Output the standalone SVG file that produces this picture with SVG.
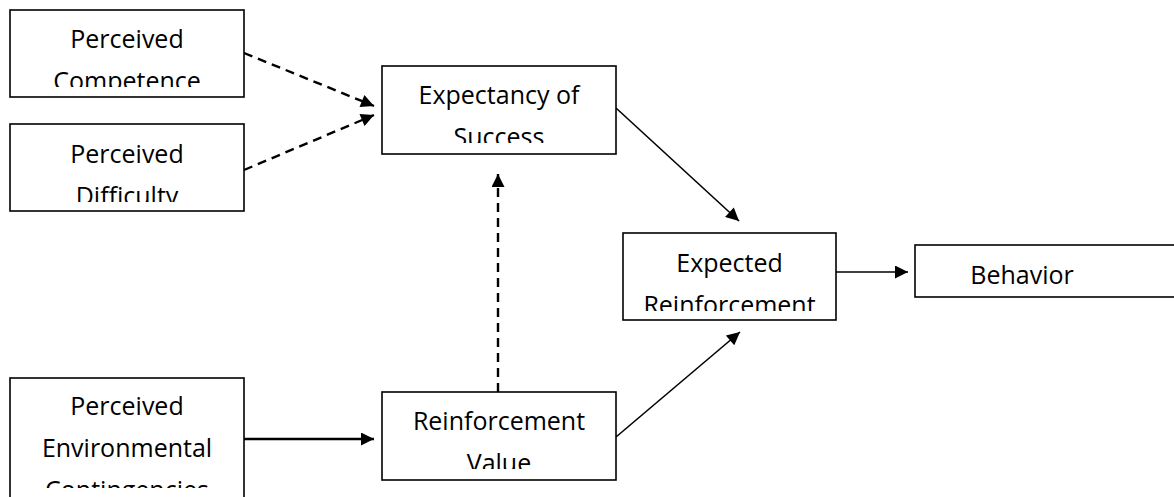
<svg xmlns="http://www.w3.org/2000/svg" width="1174" height="497" viewBox="0 0 1174 497">
<defs>
<style>
.box{fill:#fff;stroke:#000;stroke-width:1.6}
.t{font-family:"Open Sans","Liberation Sans",sans-serif;font-size:25px;fill:#000;text-anchor:middle}
.c{fill:none;stroke:#000;stroke-width:1.6}
.d{stroke-dasharray:9 6;stroke-width:2.4}
</style>
<marker id="ah" viewBox="0 0 10 10" refX="10" refY="5" markerWidth="16" markerHeight="13" markerUnits="userSpaceOnUse" orient="auto">
<path d="M0,0 L10,5 L0,10 Z" fill="#000"/>
</marker>
<clipPath id="k1"><rect x="10" y="10" width="234" height="77"/></clipPath>
<clipPath id="k2"><rect x="10" y="124" width="234" height="78"/></clipPath>
<clipPath id="k3"><rect x="382" y="66" width="234" height="77"/></clipPath>
<clipPath id="k4"><rect x="623" y="233" width="213" height="78"/></clipPath>
<clipPath id="k5"><rect x="10" y="378" width="234" height="110"/></clipPath>
<clipPath id="k6"><rect x="382" y="392" width="234" height="77"/></clipPath>
</defs>
<rect width="1174" height="497" fill="#fff"/>
<g id="connectors">
<line class="c d" x1="244" y1="53" x2="374" y2="106" marker-end="url(#ah)"/>
<line class="c d" x1="244" y1="170" x2="374" y2="115" marker-end="url(#ah)"/>
<line class="c d" x1="498" y1="392" x2="498" y2="174" marker-end="url(#ah)"/>
<line class="c" x1="616" y1="108" x2="739" y2="221" marker-end="url(#ah)"/>
<line class="c" x1="616" y1="437" x2="740" y2="332" marker-end="url(#ah)"/>
<line class="c" x1="836" y1="272" x2="908" y2="272" marker-end="url(#ah)"/>
<line class="c" style="stroke-width:2.4" x1="244" y1="439" x2="374" y2="439" marker-end="url(#ah)"/>
</g>
<g id="n-competence">
<rect class="box" x="10" y="10" width="234" height="87"/>
<g clip-path="url(#k1)"><text class="t" x="127" y="48">Perceived</text><text class="t" x="127" y="90">Competence</text></g>
</g>
<g id="n-difficulty">
<rect class="box" x="10" y="124" width="234" height="87"/>
<g clip-path="url(#k2)"><text class="t" x="127" y="163">Perceived</text><text class="t" x="127" y="205">Difficulty</text></g>
</g>
<g id="n-expectancy">
<rect class="box" x="382" y="66" width="234" height="88"/>
<g clip-path="url(#k3)"><text class="t" x="499" y="104">Expectancy of</text><text class="t" x="499" y="146">Success</text></g>
</g>
<g id="n-expected">
<rect class="box" x="623" y="233" width="213" height="87"/>
<g clip-path="url(#k4)"><text class="t" x="729.5" y="272">Expected</text><text class="t" x="729.5" y="314">Reinforcement</text></g>
</g>
<g id="n-behavior">
<rect class="box" x="915" y="245" width="270" height="52"/>
<text class="t" x="1022" y="284">Behavior</text>
</g>
<g id="n-environment">
<rect class="box" x="10" y="378" width="234" height="130"/>
<g clip-path="url(#k5)"><text class="t" x="127" y="415">Perceived</text><text class="t" x="127" y="457">Environmental</text><text class="t" x="127" y="499">Contingencies</text></g>
</g>
<g id="n-value">
<rect class="box" x="382" y="392" width="234" height="88"/>
<g clip-path="url(#k6)"><text class="t" x="499" y="430">Reinforcement</text><text class="t" x="499" y="472">Value</text></g>
</g>
</svg>
